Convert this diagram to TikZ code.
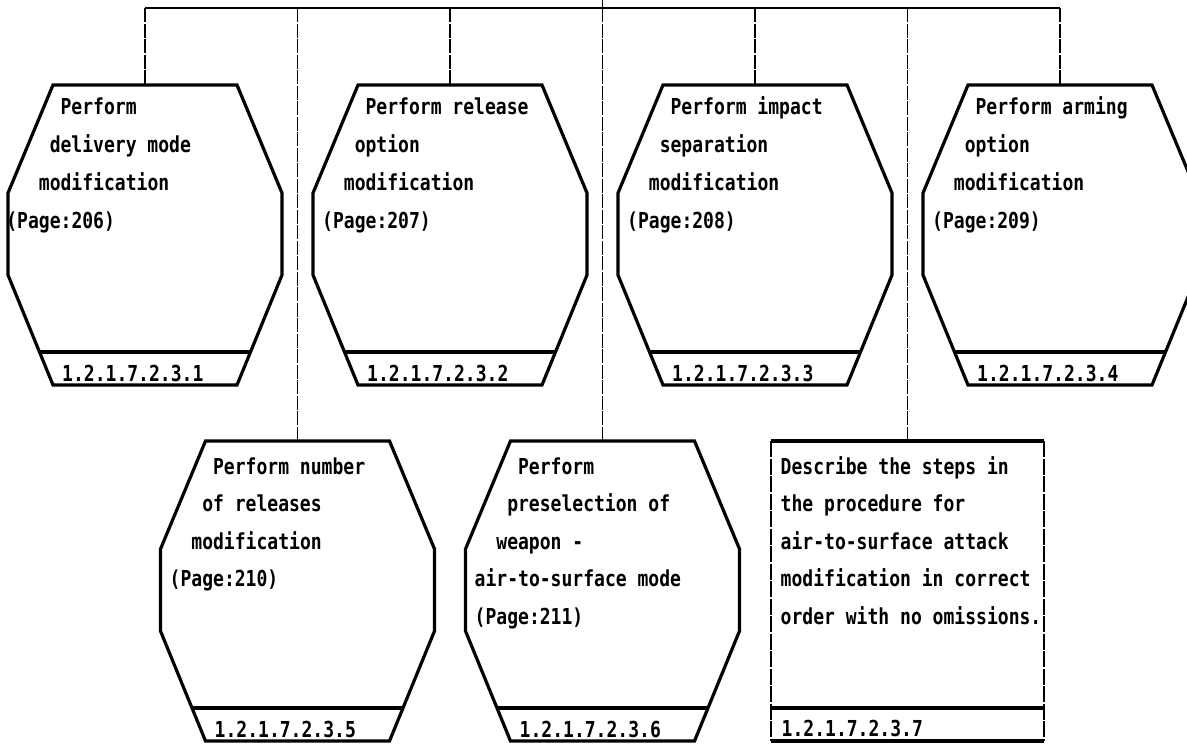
\documentclass[tikz,border=0pt]{standalone}
\usepackage{fontspec}
\newfontfamily\dotfont{DejaVu Sans Mono}[FakeStretch=0.82]
\tikzset{
  hexline/.style={line width=3.2pt, line join=miter},
  conn/.style={line width=1.4pt, dash pattern=on 14pt off 1.5pt},
  rectside/.style={line width=1.9pt, dash pattern=on 16pt off 1.5pt},
  busline/.style={line width=2.8pt},
  txt/.style={anchor=base west, inner sep=0pt, font=\dotfont\bfseries\fontsize{22}{22}\selectfont},
}
% hexagonal box: name, centre x, top y
\newcommand\HexBox[3]{%
  \coordinate (#1) at (#2,#3);
  \begin{scope}[shift={(#1)}]
    \draw[hexline] (-92,0) -- (92,0) -- (137,108) -- (137,190) -- (92,300)
       -- (-92,300) -- (-137,190) -- (-137,108) -- cycle;
    \draw[hexline] (-105.5,267) -- (105.5,267);
  \end{scope}}
\begin{document}
\begin{tikzpicture}[x=1pt,y=-1pt]
\useasboundingbox (0,0) rectangle (1187,745);
\fill[white] (0,0) rectangle (1187,745);
\clip (0,0) rectangle (1187,745);

% boxes
\HexBox{s1}{145}{85}
\HexBox{s2}{450}{85}
\HexBox{s3}{755}{85}
\HexBox{s4}{1060}{85}
\HexBox{s5}{297.5}{441}
\HexBox{s6}{602.5}{441}
\coordinate (s7) at (907.5,441);
\draw[hexline] (771,441) -- (1044,441);
\draw[hexline] (771,708) -- (1044,708);
\draw[hexline] (771,741) -- (1044,741);
\draw[rectside] (771,441) -- (771,741);
\draw[rectside] (1044,441) -- (1044,741);

% bus and connectors
\coordinate (parent) at (602.5,0);
\foreach \n/\x in {1/145,2/450,3/755,4/1060,5/297.5,6/602.5,7/907.5}
  \coordinate (b\n) at (\x,8);
\draw[busline] (b1) -- (b4);
\draw[conn] (parent) -- (b6);
\foreach \n in {1,...,7} \draw[conn] (b\n) -- (s\n);

% texts of the upper row
\foreach \ind/\t [count=\i] in {4/Perform,3/delivery mode,2/modification,-1/(Page:206)}
  \node[txt] (s1t\i) at ({145-128+\ind*10.85}, {114+38*\i-38}) {\t};
\foreach \ind/\t [count=\i] in {4/Perform release,3/option,2/modification,0/(Page:207)}
  \node[txt] (s2t\i) at ({450-128+\ind*10.85}, {114+38*\i-38}) {\t};
\foreach \ind/\t [count=\i] in {4/Perform impact,3/separation,2/modification,0/(Page:208)}
  \node[txt] (s3t\i) at ({755-128+\ind*10.85}, {114+38*\i-38}) {\t};
\foreach \ind/\t [count=\i] in {4/Perform arming,3/option,2/modification,0/(Page:209)}
  \node[txt] (s4t\i) at ({1060-128+\ind*10.85}, {114+38*\i-38}) {\t};

% texts of the lower row
\foreach \ind/\t [count=\i] in {4/Perform number,3/of releases,2/modification,0/(Page:210)}
  \node[txt] (s5t\i) at ({297.5-128+\ind*10.85}, {474+37.5*\i-37.5}) {\t};
\foreach \ind/\t [count=\i] in {4/Perform,3/preselection of,2/weapon -,0/air-to-surface mode,0/(Page:211)}
  \node[txt] (s6t\i) at ({602.5-128+\ind*10.85}, {474+37.5*\i-37.5}) {\t};
\foreach \t [count=\i] in {Describe the steps in,the procedure for,air-to-surface attack,modification in correct,order with no omissions.}
  \node[txt] (s7t\i) at (780.5, {474+37.5*\i-37.5}) {\t};

% numbers in the bands
\node[txt] (s1n) at (62,381) {1.2.1.7.2.3.1};
\node[txt] (s2n) at (367,381) {1.2.1.7.2.3.2};
\node[txt] (s3n) at (672,381) {1.2.1.7.2.3.3};
\node[txt] (s4n) at (977,381) {1.2.1.7.2.3.4};
\node[txt] (s5n) at (214.5,737) {1.2.1.7.2.3.5};
\node[txt] (s6n) at (519.5,737) {1.2.1.7.2.3.6};
\node[txt] (s7n) at (781.5,736) {1.2.1.7.2.3.7};
\end{tikzpicture}
\end{document}
